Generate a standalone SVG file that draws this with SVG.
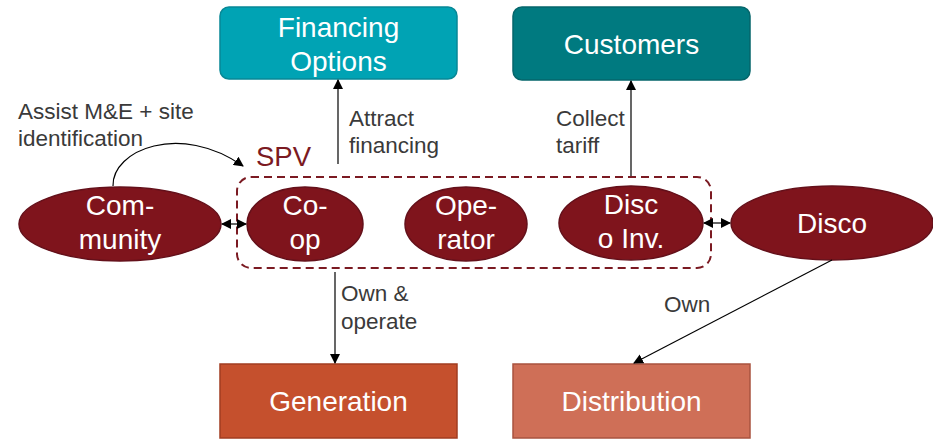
<svg xmlns="http://www.w3.org/2000/svg" width="933" height="439" viewBox="0 0 933 439">
  <style>
    .node-text { font-family: "Liberation Sans", Arial, sans-serif; font-size: 28px; fill: #ffffff; text-anchor: middle; }
    .label { font-family: "Liberation Sans", Arial, sans-serif; font-size: 22.5px; fill: #3a3a3a; }
    .ell { fill: #7F141C; stroke: #64101A; stroke-width: 1.5; }
    .conn { fill: none; stroke: #000000; stroke-width: 1.2; }
  </style>
  <defs>
    <marker id="arrow" viewBox="0 0 10 10" refX="9" refY="5" markerWidth="10" markerHeight="10" markerUnits="userSpaceOnUse" orient="auto-start-reverse">
      <path d="M0,0 L10,5 L0,10 z" fill="#000000"/>
    </marker>
  </defs>
  <rect width="933" height="439" fill="#ffffff"/>

  <!-- SPV grouping -->
  <g id="spv">
    <rect x="237" y="177" width="474" height="91" rx="14" fill="none" stroke="#7B1A22" stroke-width="2" stroke-dasharray="8 5"/>
    <text x="256" y="166" font-family="'Liberation Sans', Arial, sans-serif" font-size="27.5" fill="#7B1A22">SPV</text>
  </g>

  <!-- Top boxes -->
  <g id="financing">
    <rect x="220" y="7" width="237" height="72" rx="9" fill="#00A3B4" stroke="#078896" stroke-width="1.5"/>
    <text class="node-text" x="338.5" y="37">Financing</text>
    <text class="node-text" x="338.5" y="71">Options</text>
  </g>
  <g id="customers">
    <rect x="513" y="7" width="237" height="73" rx="9" fill="#007A80" stroke="#05666B" stroke-width="1.5"/>
    <text class="node-text" x="631.5" y="54">Customers</text>
  </g>

  <!-- Bottom boxes -->
  <g id="generation">
    <rect x="220" y="364" width="237" height="74" fill="#C5502D" stroke="#A13C20" stroke-width="1.5"/>
    <text class="node-text" x="338.5" y="411">Generation</text>
  </g>
  <g id="distribution">
    <rect x="513" y="364" width="237" height="74" fill="#CF6F57" stroke="#A9533F" stroke-width="1.5"/>
    <text class="node-text" x="631.5" y="411">Distribution</text>
  </g>

  <!-- Ellipse nodes -->
  <g id="community">
    <ellipse class="ell" cx="120" cy="224" rx="101" ry="37"/>
    <text class="node-text" x="120" y="215">Com-</text>
    <text class="node-text" x="120" y="249">munity</text>
  </g>
  <g id="coop">
    <ellipse class="ell" cx="305" cy="224" rx="58" ry="37"/>
    <text class="node-text" x="305" y="215">Co-</text>
    <text class="node-text" x="305" y="249">op</text>
  </g>
  <g id="operator">
    <ellipse class="ell" cx="466" cy="224" rx="61" ry="37"/>
    <text class="node-text" x="466" y="215">Ope-</text>
    <text class="node-text" x="466" y="249">rator</text>
  </g>
  <g id="disco-inv">
    <ellipse class="ell" cx="631" cy="223" rx="72" ry="37"/>
    <text class="node-text" x="631" y="214">Disc</text>
    <text class="node-text" x="631" y="248">o Inv.</text>
  </g>
  <g id="disco">
    <ellipse class="ell" cx="832" cy="223" rx="101" ry="37"/>
    <text class="node-text" x="832" y="233">Disco</text>
  </g>

  <!-- Connectors -->
  <g id="connectors">
    <path class="conn" d="M222,224 L246,224" marker-start="url(#arrow)" marker-end="url(#arrow)"/>
    <path class="conn" d="M704,223 L730,223" marker-start="url(#arrow)" marker-end="url(#arrow)"/>
    <path class="conn" d="M338,164 L338,80" marker-end="url(#arrow)"/>
    <path class="conn" d="M631,176 L631,81" marker-end="url(#arrow)"/>
    <path class="conn" d="M335,272 L335,363" marker-end="url(#arrow)"/>
    <path class="conn" d="M832,260 L634,363" marker-end="url(#arrow)"/>
    <path class="conn" d="M113,186 C112,150 180,122 243,166" marker-end="url(#arrow)"/>
  </g>

  <!-- Connector labels -->
  <g id="labels">
    <text class="label" x="18" y="119">Assist M&amp;E + site</text>
    <text class="label" x="18" y="146">identification</text>
    <text class="label" x="349" y="126">Attract</text>
    <text class="label" x="349" y="153">financing</text>
    <text class="label" x="556" y="126">Collect</text>
    <text class="label" x="556" y="153">tariff</text>
    <text class="label" x="341" y="301">Own &amp;</text>
    <text class="label" x="341" y="329">operate</text>
    <text class="label" x="664" y="312">Own</text>
  </g>
</svg>
